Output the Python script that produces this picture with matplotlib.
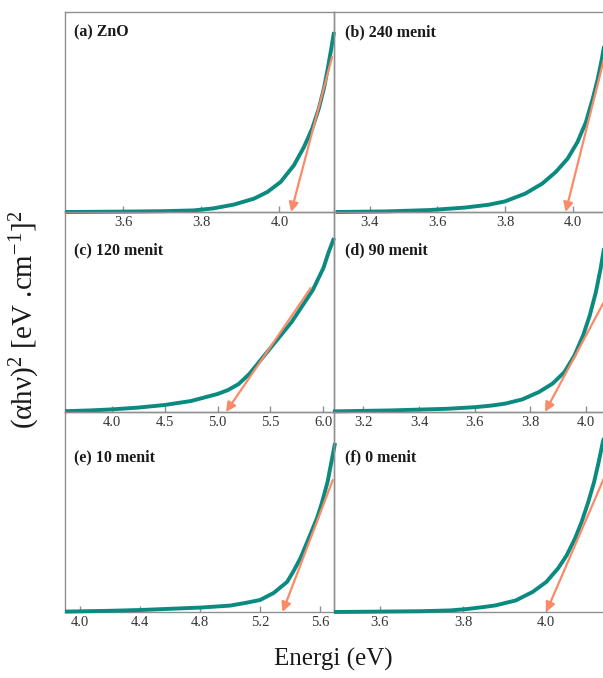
import matplotlib
matplotlib.use("Agg")
import matplotlib.pyplot as plt
import numpy as np

plt.rcParams['font.family'] = ['Liberation Serif', 'DejaVu Serif']
plt.rcParams['mathtext.fontset'] = 'custom'
plt.rcParams['mathtext.rm'] = 'Liberation Serif'
plt.rcParams['mathtext.it'] = 'Liberation Serif:italic'

# Data (y in arbitrary units, 0..1 of panel height)
labels = ['(a) ZnO', '(b) 240 menit', '(c) 120 menit',
          '(d) 90 menit', '(e) 10 menit', '(f) 0 menit']

e_a = [3.45, 3.60, 3.70, 3.78, 3.83, 3.883, 3.935, 3.969, 4.003, 4.037, 4.063,
       4.084, 4.101, 4.114, 4.124, 4.133, 4.14]
y_a = [0.0, 0.002, 0.004, 0.008, 0.018, 0.037, 0.067, 0.10, 0.15, 0.233, 0.325,
       0.417, 0.517, 0.617, 0.717, 0.817, 0.90]

e_b = [3.30, 3.45, 3.58, 3.68, 3.75, 3.799, 3.859, 3.909, 3.949, 3.984, 4.013,
       4.038, 4.058, 4.073, 4.085, 4.095, 4.10]
y_b = [0.0, 0.003, 0.01, 0.022, 0.036, 0.053, 0.092, 0.142, 0.20, 0.267, 0.35,
       0.45, 0.567, 0.667, 0.767, 0.867, 0.90]

e_c = [3.56, 3.80, 4.00, 4.25, 4.50, 4.75, 5.00, 5.10, 5.20, 5.30, 5.40, 5.50,
       5.60, 5.70, 5.80, 5.90, 6.00, 6.05, 6.10]
y_c = [0.004, 0.008, 0.013, 0.022, 0.035, 0.055, 0.09, 0.11, 0.14, 0.19, 0.255, 0.32,
       0.385, 0.45, 0.53, 0.61, 0.72, 0.80, 0.87]

e_d = [3.09, 3.30, 3.50, 3.60, 3.66, 3.711, 3.772, 3.832, 3.881, 3.924, 3.96,
       3.991, 4.015, 4.037, 4.054, 4.066, 4.077]
y_d = [0.003, 0.008, 0.016, 0.024, 0.032, 0.042, 0.063, 0.10, 0.142, 0.20, 0.283,
       0.383, 0.483, 0.60, 0.717, 0.817, 0.89]

e_e = [3.90, 4.20, 4.40, 4.60, 4.80, 5.00, 5.10, 5.20, 5.29, 5.38, 5.42, 5.47,
       5.52, 5.58, 5.61, 5.65, 5.70]
y_e = [0.002, 0.006, 0.01, 0.016, 0.022, 0.032, 0.045, 0.06, 0.095, 0.15, 0.20, 0.27,
       0.36, 0.47, 0.54, 0.65, 0.845]

e_f = [3.49, 3.60, 3.70, 3.77, 3.81, 3.85, 3.878, 3.927, 3.967, 4.0, 4.028, 4.049,
       4.069, 4.085, 4.101, 4.115, 4.126, 4.136, 4.146]
y_f = [0.0, 0.002, 0.004, 0.008, 0.015, 0.025, 0.033, 0.058, 0.10, 0.15, 0.217, 0.283,
       0.367, 0.45, 0.55, 0.65, 0.75, 0.85, 0.92]

# tangent lines: (x intercept, x top, y top)
tangents = [(4.03, 4.135, 0.775), (3.978, 4.10, 0.825), (5.08, 5.88, 0.62),
            (3.854, 4.067, 0.553), (5.35, 5.685, 0.66), (4.00, 4.14, 0.675)]

xlims = [(3.45, 4.14), (3.295, 4.10), (3.56, 6.10),
         (3.094, 4.077), (3.90, 5.693), (3.49, 4.146)]
xticks = [[3.6, 3.8, 4.0], [3.4, 3.6, 3.8, 4.0], [4.0, 4.5, 5.0, 5.5, 6.0],
          [3.2, 3.4, 3.6, 3.8, 4.0], [4.0, 4.4, 4.8, 5.2, 5.6], [3.6, 3.8, 4.0]]

curves = [(e_a, y_a), (e_b, y_b), (e_c, y_c), (e_d, y_d), (e_e, y_e), (e_f, y_f)]
label_y = [0.9, 0.9, 0.81, 0.81, 0.775, 0.775]

teal = '#0b8a80'
coral = '#fa8a68'
grey = '#8f8f8f'

W, H = 603, 678
fig = plt.figure(figsize=(W / 100, H / 100), dpi=100)

lefts = [65, 334]
tops = [12, 212, 412]
for i in range(6):
    row, col = i // 2, i % 2
    x0 = lefts[col] / W
    w = (269 + (4 if col == 1 else 0)) / W
    y0 = 1 - (tops[row] + 200) / H
    ax = fig.add_axes([x0, y0, w, 200 / H])
    ax.patch.set_alpha(0)
    ex, ey = curves[i]
    ax.plot(ex, ey, color=teal, lw=2.8, clip_on=False, solid_capstyle='butt',
            solid_joinstyle='round', zorder=3)
    xi, xt, yt = tangents[i]
    ax.annotate('', xy=(xi, 0), xytext=(xt, yt),
                arrowprops=dict(arrowstyle='-|>', color=coral, lw=1.6,
                                mutation_scale=14, shrinkA=0, shrinkB=0),
                zorder=4)
    ax.set_xlim(*xlims[i])
    ax.set_ylim(0, 1)
    ax.set_xticks(xticks[i])
    ax.set_xticklabels(['%.1f' % t for t in xticks[i]])
    ax.set_yticks([])
    ax.tick_params(axis='x', direction='in', length=4, width=1, color=grey,
                   labelsize=10.5, pad=3, labelcolor='#333333')
    for s in ax.spines.values():
        s.set_color(grey)
        s.set_linewidth(1.0)
    ax.text(0.035 if col == 0 else 0.042, label_y[i], labels[i], transform=ax.transAxes,
            fontsize=11.5, fontweight='bold', va='center', ha='left', color='#1a1a1a')

fig.text(0.041, 0.528, r'(αhν)$^2$ [eV .cm$^{-1}$]$^2$', rotation=90,
         fontsize=21, ha='center', va='center', color='#1a1a1a')
fig.text(0.553, 0.027, 'Energi (eV)', fontsize=18, ha='center', va='center', color='#1a1a1a')

fig.savefig('out.png', dpi=100)
